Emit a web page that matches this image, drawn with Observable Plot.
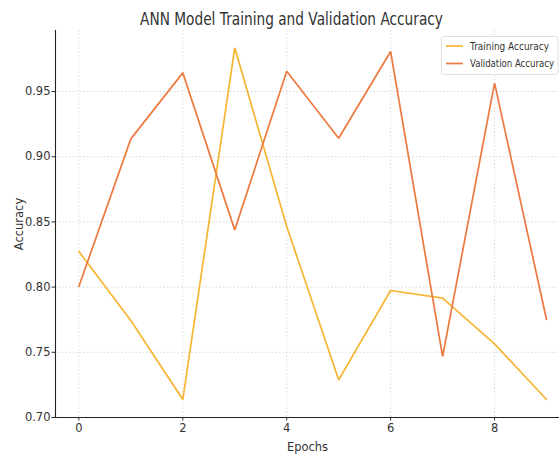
<!DOCTYPE html>
<html>
<head>
<meta charset="utf-8">
<script src="https://cdn.jsdelivr.net/npm/d3@7"></script>
<script src="https://cdn.jsdelivr.net/npm/@observablehq/plot@0.6"></script>
<style>
  html, body { margin: 0; padding: 0; background: #fff; }
  #chart { width: 559px; height: 455px; overflow: hidden; }
</style>
</head>
<body>
<div id="chart"></div>
<script>
const epochs = [0, 1, 2, 3, 4, 5, 6, 7, 8, 9];
const trainingAccuracy = [0.8273, 0.7744, 0.7138, 0.9835, 0.8465, 0.7289, 0.7974, 0.7915, 0.7565, 0.7138];
const validationAccuracy = [0.8005, 0.9137, 0.9643, 0.8439, 0.9656, 0.9142, 0.9807, 0.7468, 0.9564, 0.7752];
const seriesNames = ["Training Accuracy", "Validation Accuracy"];
const seriesColors = ["#f6b530", "#ec7a40"];
const xTicks = [0, 2, 4, 6, 8];
const yTicks = [0.70, 0.75, 0.80, 0.85, 0.90, 0.95];
const xDomain = [-0.45, 9.25];
const yDomain = [0.70, 0.9968];
const titleText = "ANN Model Training and Validation Accuracy";

const rows = [];
epochs.forEach((e, i) => {
  rows.push({epoch: e, acc: trainingAccuracy[i], series: seriesNames[0]});
  rows.push({epoch: e, acc: validationAccuracy[i], series: seriesNames[1]});
});

const font = "DejaVu Sans, sans-serif";
const plot = Plot.plot({
  width: 559,
  height: 455,
  marginLeft: 55,
  marginRight: 0,
  marginTop: 30,
  marginBottom: 38,
  style: {fontFamily: font, fontSize: "11px", color: "#333", background: "#fff"},
  x: {domain: xDomain, ticks: xTicks, tickFormat: d3.format("d")},
  y: {domain: yDomain, ticks: yTicks, tickFormat: d3.format(".2f")},
  color: {domain: seriesNames, range: seriesColors},
  marks: [
    Plot.gridX(xTicks, {stroke: "#cfcfcf", strokeOpacity: 1, strokeWidth: 0.8, strokeDasharray: "1.5,2"}),
    Plot.gridY(yTicks, {stroke: "#cfcfcf", strokeOpacity: 1, strokeWidth: 0.8, strokeDasharray: "1.5,2"}),
    Plot.axisX({ticks: xTicks, tickSize: 3.5, tickPadding: 3, fontSize: 11.5, label: "Epochs", labelAnchor: "center", labelOffset: 33, labelArrow: "none", tickFormat: d3.format("d")}),
    Plot.axisY({ticks: yTicks, tickSize: 3.5, tickPadding: 1.5, fontSize: 11.5, label: "Accuracy", labelAnchor: "center", labelOffset: 41, labelArrow: "none", tickFormat: d3.format(".2f")}),
    Plot.ruleX([xDomain[0]], {stroke: "#222", strokeWidth: 1.1}),
    Plot.ruleY([yDomain[0]], {stroke: "#222", strokeWidth: 1.1}),
    Plot.line(rows, {x: "epoch", y: "acc", stroke: "series", strokeWidth: 1.7, strokeLinejoin: "miter", clip: false})
  ]
});

document.getElementById("chart").appendChild(plot);

const svg = d3.select(plot);

// horizontally condensed text via a scale transform
function condensedText(parent, str, x, y, size, targetWidth, anchor) {
  const t = parent.append("text")
    .attr("text-anchor", anchor)
    .attr("font-family", font).attr("font-size", size).attr("fill", "#333")
    .text(str);
  const natural = t.node().getComputedTextLength() || targetWidth;
  const sx = Math.min(1, targetWidth / natural);
  t.attr("transform", `translate(${x},${y}) scale(${sx},1)`);
  return t;
}

// Title
condensedText(svg, titleText, 291.5, 24.5, 17, 303, "middle");

// Legend
const lg = svg.append("g");
lg.append("rect")
  .attr("x", 441.5).attr("y", 36.5).attr("width", 116.5).attr("height", 38).attr("rx", 2.5)
  .attr("fill", "#fff").attr("fill-opacity", 0.85).attr("stroke", "#d8d8d8").attr("stroke-width", 0.8);
const lens = [79, 84];
seriesNames.forEach((name, i) => {
  const y = 46 + i * 17.5;
  lg.append("line").attr("x1", 446).attr("x2", 463).attr("y1", y).attr("y2", y)
    .attr("stroke", seriesColors[i]).attr("stroke-width", 1.7);
  condensedText(lg, name, 470, y + 3.8, 10.8, lens[i], "start");
});
</script>
</body>
</html>
